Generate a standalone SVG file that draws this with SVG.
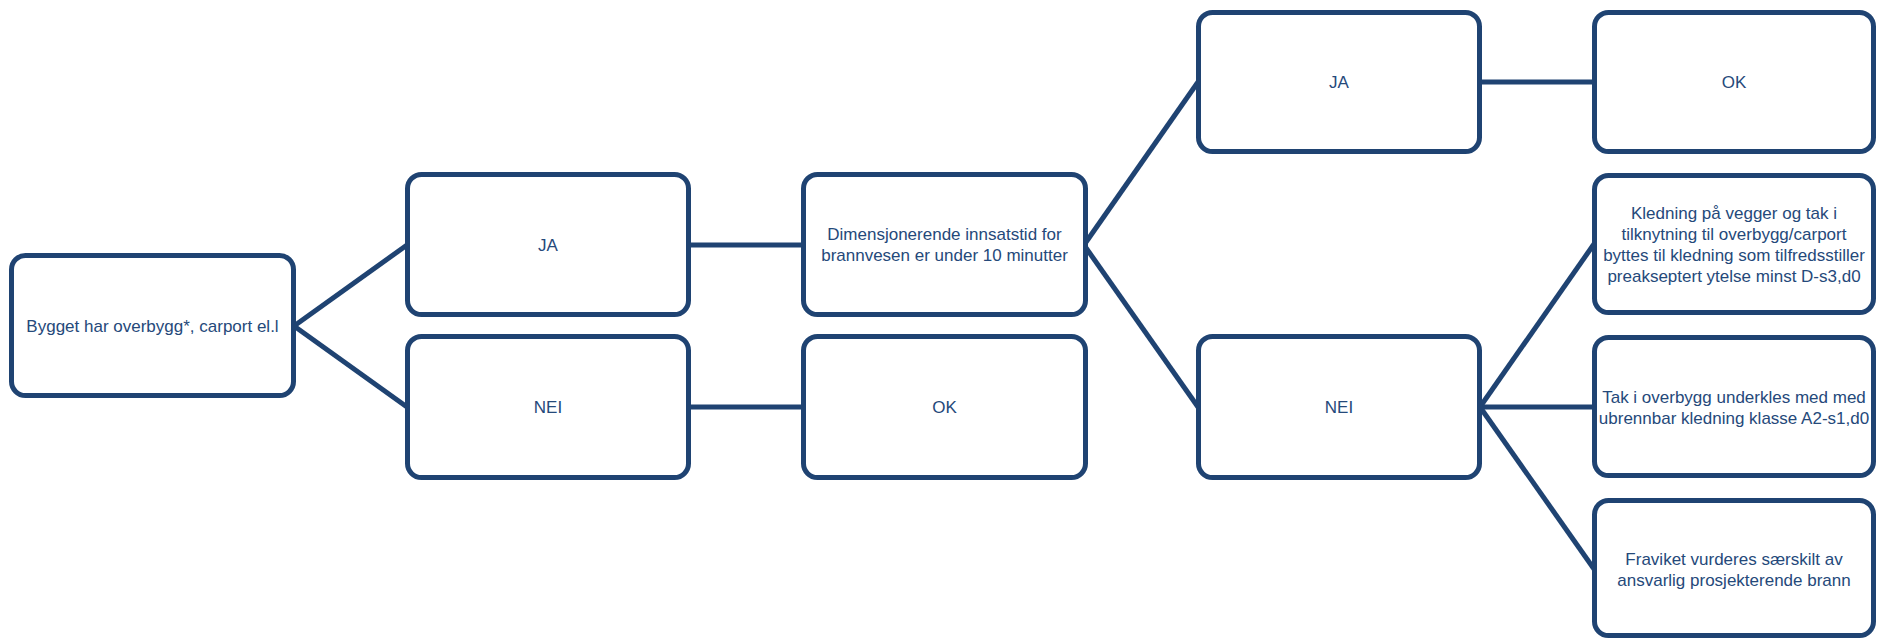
<svg xmlns="http://www.w3.org/2000/svg" width="1883" height="640" viewBox="0 0 1883 640">
<style>
.box{fill:#ffffff;stroke:#1f4372;stroke-width:5}
.lbl{font-family:"Liberation Sans",Arial,sans-serif;font-size:17px;fill:#25497a;text-anchor:middle;dominant-baseline:central}
.conn{stroke:#1f4372;stroke-width:5;fill:none;stroke-linecap:butt}
</style>
<rect width="1883" height="640" fill="#ffffff"/>
<g id="connectors">
<line class="conn" x1="294" y1="326" x2="407" y2="245"/>
<line class="conn" x1="294" y1="326" x2="407" y2="407"/>
<line class="conn" x1="689" y1="245" x2="803" y2="245"/>
<line class="conn" x1="689" y1="407" x2="803" y2="407"/>
<line class="conn" x1="1084" y1="245" x2="1198" y2="82"/>
<line class="conn" x1="1084" y1="245" x2="1198" y2="407"/>
<line class="conn" x1="1480" y1="82" x2="1594" y2="82"/>
<line class="conn" x1="1480" y1="407" x2="1594" y2="244"/>
<line class="conn" x1="1480" y1="407" x2="1594" y2="407"/>
<line class="conn" x1="1480" y1="407" x2="1594" y2="569"/>
</g>
<g id="n_bygget">
<rect class="box" x="11.5" y="255.5" width="282" height="140" rx="14"/>
<text class="lbl" x="152.5" y="326">Bygget har overbygg*, carport el.l</text>
</g>
<g id="n_ja1">
<rect class="box" x="407.5" y="174.5" width="281" height="140" rx="14"/>
<text class="lbl" x="548" y="245">JA</text>
</g>
<g id="n_nei1">
<rect class="box" x="407.5" y="336.5" width="281" height="141" rx="14"/>
<text class="lbl" x="548" y="407">NEI</text>
</g>
<g id="n_dim">
<rect class="box" x="803.5" y="174.5" width="282" height="140" rx="14"/>
<text class="lbl" x="944.5" y="234.5">Dimensjonerende innsatstid for</text>
<text class="lbl" x="944.5" y="255.5">brannvesen er under 10 minutter</text>
</g>
<g id="n_ok1">
<rect class="box" x="803.5" y="336.5" width="282" height="141" rx="14"/>
<text class="lbl" x="944.5" y="407">OK</text>
</g>
<g id="n_ja2">
<rect class="box" x="1198.5" y="12.5" width="281" height="139" rx="14"/>
<text class="lbl" x="1339" y="82">JA</text>
</g>
<g id="n_nei2">
<rect class="box" x="1198.5" y="336.5" width="281" height="141" rx="14"/>
<text class="lbl" x="1339" y="407">NEI</text>
</g>
<g id="n_ok2">
<rect class="box" x="1594.5" y="12.5" width="279" height="139" rx="14"/>
<text class="lbl" x="1734" y="82">OK</text>
</g>
<g id="n_kledning">
<rect class="box" x="1594.5" y="175.5" width="279" height="137" rx="14"/>
<text class="lbl" x="1734" y="213">Kledning på vegger og tak i</text>
<text class="lbl" x="1734" y="234">tilknytning til overbygg/carport</text>
<text class="lbl" x="1734" y="255">byttes til kledning som tilfredsstiller</text>
<text class="lbl" x="1734" y="276">preakseptert ytelse minst D-s3,d0</text>
</g>
<g id="n_tak">
<rect class="box" x="1594.5" y="337.5" width="279" height="138" rx="14"/>
<text class="lbl" x="1734" y="397">Tak i overbygg underkles med med</text>
<text class="lbl" x="1734" y="418">ubrennbar kledning klasse A2-s1,d0</text>
</g>
<g id="n_fraviket">
<rect class="box" x="1594.5" y="500.5" width="279" height="135" rx="14"/>
<text class="lbl" x="1734" y="559">Fraviket vurderes særskilt av</text>
<text class="lbl" x="1734" y="580">ansvarlig prosjekterende brann</text>
</g>
</svg>
